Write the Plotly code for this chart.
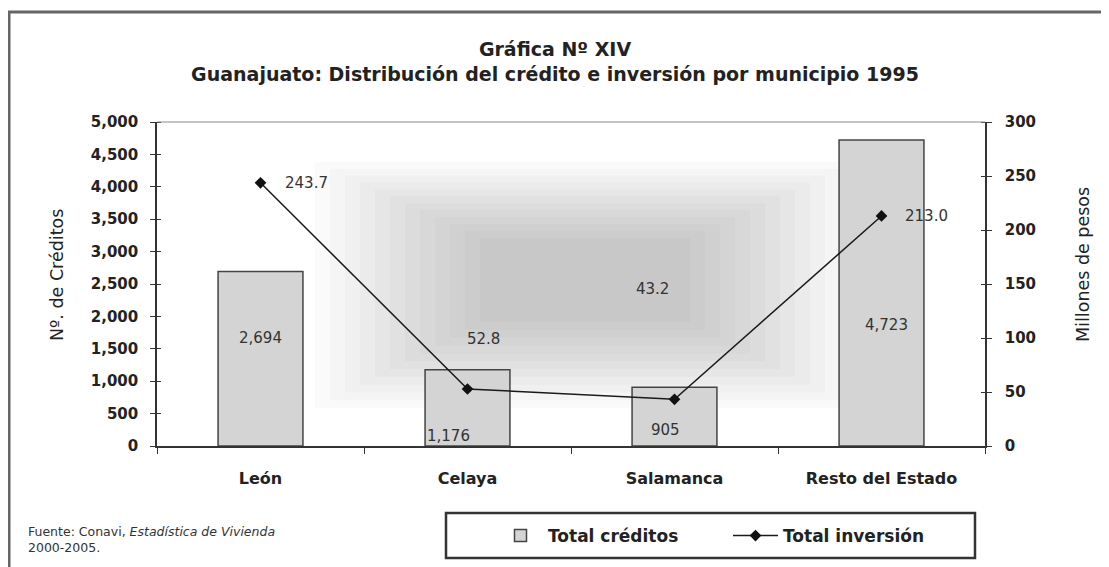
import plotly.graph_objects as go

# ---------------- data ----------------
municipios = ["León", "Celaya", "Salamanca", "Resto del Estado"]
total_creditos = [2694, 1176, 905, 4723]
total_inversion = [243.7, 52.8, 43.2, 213.0]

left_ticks = [0, 500, 1000, 1500, 2000, 2500, 3000, 3500, 4000, 4500, 5000]
right_ticks = [0, 50, 100, 150, 200, 250, 300]

# label offsets (pixels) replicating the original label placement
bar_label_shift = [(0, 108), (-19, 10), (-9, 16), (5, 121)]
line_label_shift = [(22, 0, "left"), (16, -50, "center"), (-22, -110, "center"), (21, 0, "left")]

# ---------------- layout geometry ----------------
W, H = 1109, 567
OFF = 8  # page body margin
SL, SR, ST, SB = 157, 985, 122, 446  # plot area on screen


def px(x):
    return (x - SL) / (SR - SL)


def py(y):
    return (SB - y) / (SB - ST)


FONT = "DejaVu Sans"
INK = "#222222"

fig = go.Figure()

fig.add_trace(go.Bar(
    x=municipios, y=total_creditos, name="Total créditos",
    marker=dict(color="#d4d4d4", line=dict(color="#444444", width=1.5)),
    width=0.41, yaxis="y", hoverinfo="x+y",
))
fig.add_trace(go.Scatter(
    x=municipios, y=total_inversion, name="Total inversión",
    mode="lines+markers", yaxis="y2",
    line=dict(color="#1a1a1a", width=1.5),
    marker=dict(symbol="diamond", size=9, color="#111111"),
))

annotations = []
for m, v, (dx, dy) in zip(municipios, total_creditos, bar_label_shift):
    annotations.append(dict(
        x=m, y=0, xref="x", yref="y", text=f"{v:,}", showarrow=False,
        xshift=dx, yshift=dy, font=dict(family=FONT, size=15, color="#333333"),
    ))
for m, v, (dx, dy, anc) in zip(municipios, total_inversion, line_label_shift):
    annotations.append(dict(
        x=m, y=v, xref="x", yref="y2", text=f"{v:.1f}", showarrow=False,
        xshift=dx, yshift=-dy, xanchor=anc, font=dict(family=FONT, size=15, color="#333333"),
    ))

# axis titles
annotations.append(dict(x=px(45), y=py(275), xref="paper", yref="paper", text="Nº. de Créditos",
                        textangle=-90, showarrow=False, font=dict(family=FONT, size=17.5, color=INK)))
annotations.append(dict(x=px(1095), y=py(265), xref="paper", yref="paper", text="Millones de pesos",
                        textangle=-90, showarrow=False, font=dict(family=FONT, size=17.5, color=INK)))
# source
annotations.append(dict(x=px(26), y=py(539), xref="paper", yref="paper",
                        text="Fuente: Conavi, <i>Estadística de Vivienda</i><br>2000-2005.",
                        xanchor="left", yanchor="middle", align="left", showarrow=False,
                        font=dict(family=FONT, size=12.5, color="#333333")))

shapes = []
# soft background smudge from the scanned original
outer = (315, 162, 855, 408)
inner = (480, 238, 690, 322)
n = 12
for i in range(n):
    f = i / (n - 1)
    x0 = outer[0] + (inner[0] - outer[0]) * f
    y0 = outer[1] + (inner[1] - outer[1]) * f
    x1 = outer[2] + (inner[2] - outer[2]) * f
    y1 = outer[3] + (inner[3] - outer[3]) * f
    shapes.append(dict(type="rect", xref="paper", yref="paper", x0=px(x0), x1=px(x1),
                       y0=py(y1), y1=py(y0), fillcolor="#505050", opacity=0.03,
                       line=dict(width=0), layer="below"))
# top border of plot area
shapes.append(dict(type="line", xref="paper", yref="paper", x0=0, x1=1, y0=1, y1=1,
                   line=dict(color="#888888", width=1)))
# outer frame
shapes.append(dict(type="rect", xref="paper", yref="paper", x0=px(9), x1=px(1125),
                   y0=py(590), y1=py(12), line=dict(color="#666666", width=3)))
# legend box
shapes.append(dict(type="rect", xref="paper", yref="paper", x0=px(446), x1=px(975),
                   y0=py(558), y1=py(513), line=dict(color="#333333", width=2.5)))

fig.update_layout(
    width=W, height=H,
    margin=dict(l=SL - OFF, r=W - (SR - OFF), t=ST - OFF, b=H - (SB - OFF)),
    paper_bgcolor="white", plot_bgcolor="white",
    font=dict(family=FONT, color=INK),
    title=dict(text="Gráfica Nº XIV<br>Guanajuato: Distribución del crédito e inversión por municipio 1995",
               x=(555 - OFF) / W, xanchor="center", y=1 - (56 - OFF) / H, yanchor="middle",
               font=dict(family=FONT, size=19, color=INK, weight="bold")),
    xaxis=dict(
        type="category", showline=True, linecolor="#333333", linewidth=2,
        ticks="outside", tickson="boundaries", ticklen=6, tickcolor="#333333",
        tickfont=dict(family=FONT, size=16, color=INK, weight="bold"),
        ticklabelstandoff=17, showgrid=False, zeroline=False,
    ),
    yaxis=dict(
        range=[0, 5000], tickvals=left_ticks, tickformat=",d",
        showline=True, linecolor="#333333", linewidth=1.5,
        ticks="outside", ticklen=5, tickcolor="#333333",
        minor=dict(ticks="inside", ticklen=4, tickvals=left_ticks, tickcolor="#333333"),
        tickfont=dict(family=FONT, size=15, color=INK, weight="bold"),
        ticklabelstandoff=9, showgrid=False, zeroline=False,
    ),
    yaxis2=dict(
        range=[0, 300], tickvals=right_ticks, overlaying="y", side="right",
        showline=True, linecolor="#333333", linewidth=1.5,
        ticks="outside", ticklen=5, tickcolor="#333333",
        minor=dict(ticks="inside", ticklen=4, tickvals=right_ticks, tickcolor="#333333"),
        tickfont=dict(family=FONT, size=15, color=INK, weight="bold"),
        ticklabelstandoff=10, showgrid=False, zeroline=False,
    ),
    showlegend=True,
    legend=dict(
        orientation="h", x=px(493), xanchor="left", y=py(536), yanchor="middle",
        itemwidth=45, entrywidth=175, bgcolor="rgba(0,0,0,0)", borderwidth=0,
        font=dict(family=FONT, size=17, color=INK, weight="bold"),
        traceorder="normal",
    ),
    annotations=annotations,
    shapes=shapes,
)

fig.write_html("out.html")
